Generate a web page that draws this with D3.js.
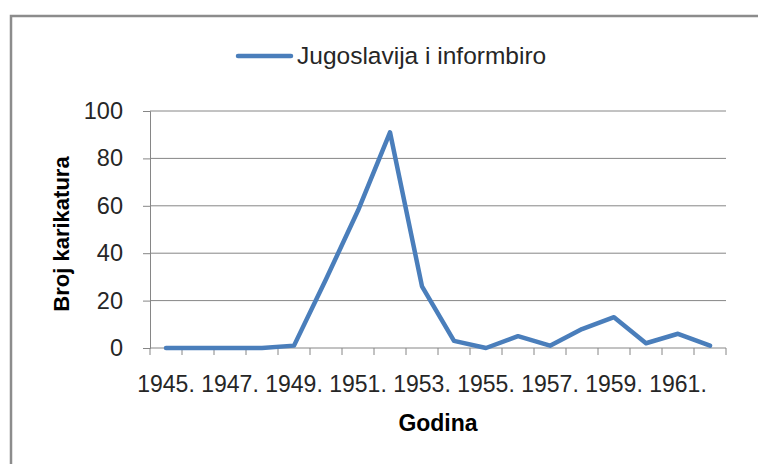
<!DOCTYPE html>
<html>
<head>
<meta charset="utf-8">
<script src="https://cdn.jsdelivr.net/npm/d3@7"></script>
<style>
	body { margin: 0; background: #fff; }
	svg { display: block; font-family: "Liberation Sans", Arial, sans-serif; }
</style>
</head>
<body>
<svg id="chart"></svg>
<script>
	var years = ['1945.', '1946.', '1947.', '1948.', '1949.', '1950.', '1951.', '1952.', '1953.',
		'1954.', '1955.', '1956.', '1957.', '1958.', '1959.', '1960.', '1961.', '1962.'];
	var karikature = [0, 0, 0, 0, 1, 29, 58, 91, 26, 3, 0, 5, 1, 8, 13, 2, 6, 1];
	var yTicks = [0, 20, 40, 60, 80, 100];
	var seriesName = 'Jugoslavija i informbiro';

(function () {
	'use strict';

	var w = 758,
		h = 464,
		plotLeft = 150,
		plotRight = 726,
		plotTop = 111,
		plotBottom = 348,
		grey = '#868686',
		blue = '#4a7ebb',
		svg, x, y, line;

	svg = d3.select('#chart')
		.attr('width', w)
		.attr('height', h);

	// chart area frame
	svg.append('path')
		.attr('d', 'M11,' + h + 'V16H' + w)
		.attr('fill', 'none')
		.attr('stroke', '#8c8c8c')
		.attr('stroke-width', 2.5);

	x = d3.scaleBand().domain(years).range([plotLeft, plotRight]);
	y = d3.scaleLinear().domain([0, 100]).range([plotBottom, plotTop]);

	// gridlines
	svg.append('g')
		.selectAll('line')
		.data(yTicks.slice(1))
		.enter()
		.append('line')
		.attr('x1', plotLeft)
		.attr('x2', plotRight)
		.attr('y1', function (d) { return y(d); })
		.attr('y2', function (d) { return y(d); })
		.attr('stroke', grey)
		.attr('stroke-width', 1);

	// y axis
	var yAxis = svg.append('g')
		.attr('transform', 'translate(' + plotLeft + ',0)')
		.call(d3.axisLeft(y).tickValues(yTicks).tickSize(7).tickPadding(20));
	yAxis.select('.domain').attr('stroke', grey);
	yAxis.selectAll('.tick line').attr('stroke', grey);
	yAxis.selectAll('.tick text')
		.attr('font-size', 23.5)
		.attr('fill', '#262626')
		.attr('font-family', '"Liberation Sans", Arial, sans-serif');

	// x axis: ticks between categories, labels every second year
	var xAxis = svg.append('g')
		.attr('transform', 'translate(0,' + plotBottom + ')');
	xAxis.append('line')
		.attr('x1', plotLeft)
		.attr('x2', plotRight)
		.attr('stroke', grey);
	xAxis.selectAll('line.tick')
		.data(years.concat(['end']))
		.enter()
		.append('line')
		.attr('class', 'tick')
		.attr('x1', function (d, i) { return plotLeft + i * x.bandwidth(); })
		.attr('x2', function (d, i) { return plotLeft + i * x.bandwidth(); })
		.attr('y1', 0)
		.attr('y2', 7)
		.attr('stroke', grey);
	xAxis.selectAll('text')
		.data(years.filter(function (d, i) { return i % 2 === 0; }))
		.enter()
		.append('text')
		.attr('x', function (d) { return x(d) + x.bandwidth() / 2; })
		.attr('y', 44)
		.attr('text-anchor', 'middle')
		.attr('font-size', 23)
		.attr('fill', '#262626')
		.text(function (d) { return d; });

	// axis titles
	svg.append('text')
		.attr('x', (plotLeft + plotRight) / 2)
		.attr('y', 431)
		.attr('text-anchor', 'middle')
		.attr('font-size', 23)
		.attr('font-weight', 'bold')
		.attr('fill', '#000')
		.text('Godina');

	svg.append('text')
		.attr('transform', 'translate(69,234) rotate(-90)')
		.attr('text-anchor', 'middle')
		.attr('font-size', 22)
		.attr('font-weight', 'bold')
		.attr('fill', '#000')
		.text('Broj karikatura');

	// series line
	line = d3.line()
		.x(function (d, i) { return x(years[i]) + x.bandwidth() / 2; })
		.y(function (d) { return y(d); });

	svg.append('path')
		.datum(karikature)
		.attr('d', line)
		.attr('fill', 'none')
		.attr('stroke', blue)
		.attr('stroke-width', 4.5)
		.attr('stroke-linejoin', 'round')
		.attr('stroke-linecap', 'round');

	// legend
	svg.append('line')
		.attr('x1', 238)
		.attr('x2', 291)
		.attr('y1', 56)
		.attr('y2', 56)
		.attr('stroke', blue)
		.attr('stroke-width', 4.5)
		.attr('stroke-linecap', 'round');

	svg.append('text')
		.attr('x', 297)
		.attr('y', 64)
		.attr('font-size', 24.5)
		.attr('fill', '#262626')
		.text(seriesName);
})();
</script>
</body>
</html>
